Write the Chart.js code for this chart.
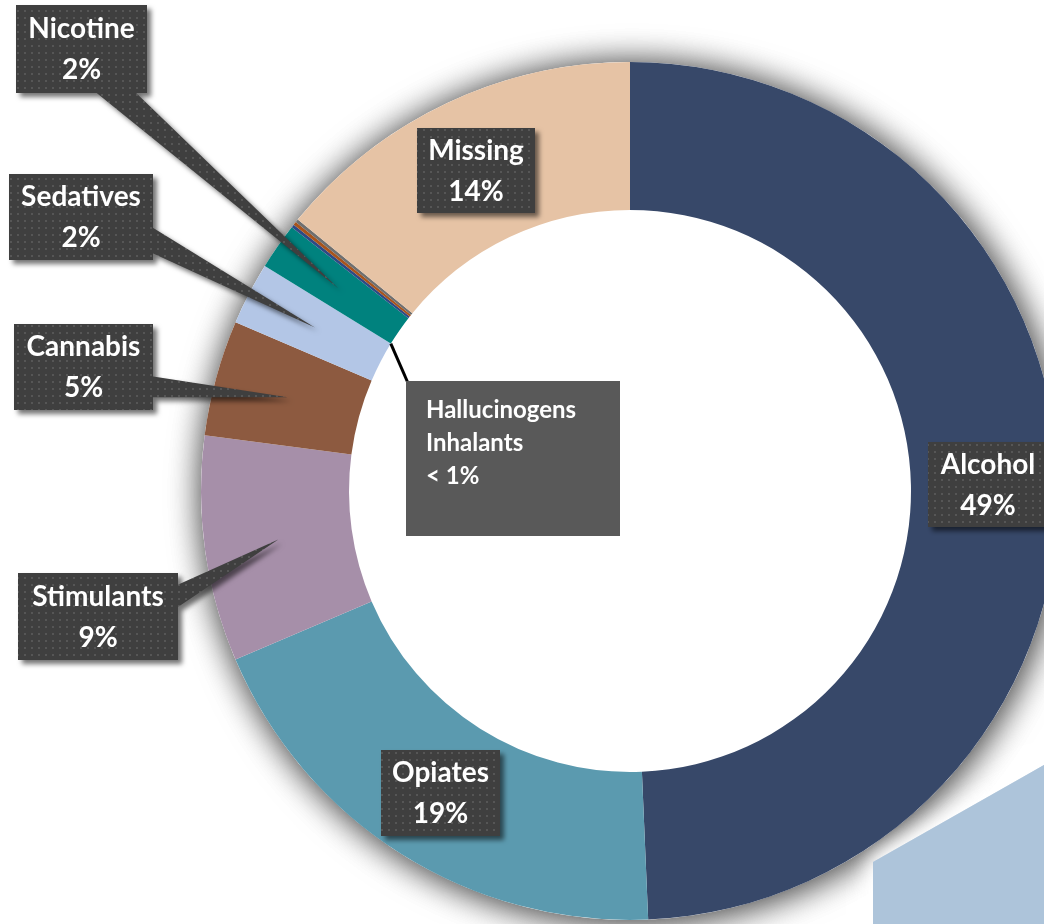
<!DOCTYPE html>
<html>
<head>
<meta charset="utf-8">
<script src="https://cdn.jsdelivr.net/npm/chart.js@4.4.1/dist/chart.umd.min.js"></script>
<style>
  html, body { margin: 0; padding: 0; background: #fff; }
  #wrap { width: 1044px; height: 924px; overflow: hidden; position: relative; }
</style>
</head>
<body>
<div id="wrap"><canvas id="donutChart" width="1044" height="924"></canvas></div>
<script>
// data (share of clients, %)
var categories = ["Alcohol", "Opiates", "Stimulants", "Cannabis", "Sedatives", "Nicotine", "Hallucinogens", "Inhalants", "Other", "Missing"];
var shares = [49.33, 19.25, 8.5, 4.36, 2.36, 1.75, 0.12, 0.12, 0.12, 14.1];
var shareLabels = ["49%", "19%", "9%", "5%", "2%", "2%", "< 1%", "< 1%", "< 1%", "14%"];
var sliceColors = ["#374869", "#5b9aaf", "#a68fa9", "#8d5a40", "#b3c6e6", "#00827e", "#2e4a85", "#a8541c", "#6f6f6f", "#e6c3a5"];

// callout boxes: [x, y, w, h], pointer base points (optional)
var callouts = [
    { i: 0, box: [928, 442, 120, 85] },
    { i: 1, box: [381, 750, 119, 86] },
    { i: 2, box: [18, 573, 160, 87], base: [[175, 586], [175, 609]] },
    { i: 3, box: [14, 324, 139, 86], base: [[150, 376], [150, 397]] },
    { i: 4, box: [9, 174, 144, 86], base: [[150, 226], [150, 252]] },
    { i: 5, box: [16, 5, 131, 88], base: [[93, 90], [133, 90]] },
    { i: 9, box: [417, 128, 118, 85] }
];
var smallNote = { box: [406, 381, 214, 155], lines: ["Hallucinogens", "Inhalants", "< 1%"] };

function dotPattern(ctx) {
    var c = document.createElement("canvas");
    c.width = 7; c.height = 7;
    var p = c.getContext("2d");
    p.fillStyle = "#3f3f3f";
    p.fillRect(0, 0, 7, 7);
    p.fillStyle = "#565656";
    p.fillRect(3, 3, 2, 2);
    return ctx.createPattern(c, "repeat");
}

function triPath(ctx, a, b, t) {
    // keep winding the same as ctx.rect (clockwise on screen)
    var cross = (b[0] - a[0]) * (t[1] - a[1]) - (b[1] - a[1]) * (t[0] - a[0]);
    if (cross < 0) { var s = a; a = b; b = s; }
    ctx.moveTo(a[0], a[1]);
    ctx.lineTo(b[0], b[1]);
    ctx.lineTo(t[0], t[1]);
    ctx.closePath();
}

var backdrop = {
    id: "backdrop",
    beforeDatasetsDraw: function (chart) {
        var ctx = chart.ctx;
        var arc = chart.getDatasetMeta(0).data[0];
        ctx.save();
        // soft shadow round the ring
        ctx.shadowColor = "rgba(0,0,0,0.5)";
        ctx.shadowBlur = 34;
        ctx.shadowOffsetX = 2;
        ctx.shadowOffsetY = 2;
        ctx.fillStyle = "#ffffff";
        ctx.beginPath();
        ctx.arc(arc.x, arc.y, arc.outerRadius, 0, Math.PI * 2);
        ctx.fill();
        ctx.fill();
        // light blue panel bottom right
        ctx.shadowColor = "#ffffff";
        ctx.shadowBlur = 22;
        ctx.shadowOffsetX = 0;
        ctx.shadowOffsetY = 0;
        ctx.fillStyle = "#adc4da";
        ctx.beginPath();
        ctx.moveTo(873, 862);
        ctx.lineTo(1044, 765);
        ctx.lineTo(1044, 924);
        ctx.lineTo(873, 924);
        ctx.closePath();
        ctx.fill();
        ctx.fill();
        ctx.restore();
    }
};

var calloutPlugin = {
    id: "callouts",
    afterDatasetsDraw: function (chart) {
        var ctx = chart.ctx;
        var meta = chart.getDatasetMeta(0);
        var pat = dotPattern(ctx);

        // leader + grey note for the tiny slices
        var nic = meta.data[5];
        var ex = nic.x + nic.innerRadius * Math.cos(nic.startAngle);
        var ey = nic.y + nic.innerRadius * Math.sin(nic.startAngle);
        var nb = smallNote.box;
        ctx.save();
        ctx.strokeStyle = "#000";
        ctx.lineWidth = 3;
        ctx.beginPath();
        ctx.moveTo(ex, ey);
        ctx.lineTo(nb[0] + 2, nb[1] + 2);
        ctx.stroke();
        ctx.fillStyle = "#595959";
        ctx.fillRect(nb[0], nb[1], nb[2], nb[3]);
        ctx.fillStyle = "#fff";
        ctx.font = "bold 24px Lato";
        ctx.textAlign = "left";
        ctx.textBaseline = "alphabetic";
        smallNote.lines.forEach(function (t, k) {
            ctx.fillText(t, nb[0] + 20, nb[1] + 37 + k * 33);
        });
        ctx.restore();

        callouts.forEach(function (c) {
            var b = c.box;
            ctx.save();
            ctx.shadowColor = "rgba(0,0,0,0.55)";
            ctx.shadowBlur = 5;
            ctx.shadowOffsetX = 4;
            ctx.shadowOffsetY = 4;
            ctx.fillStyle = pat;
            ctx.beginPath();
            ctx.rect(b[0], b[1], b[2], b[3]);
            if (c.base) {
                var tip = meta.data[c.i].tooltipPosition();
                triPath(ctx, c.base[0], c.base[1], [tip.x, tip.y]);
            }
            ctx.fill();
            ctx.restore();

            ctx.save();
            ctx.fillStyle = "#fff";
            ctx.font = "bold 28px Lato";
            ctx.textAlign = "center";
            ctx.textBaseline = "middle";
            var cx = b[0] + b[2] / 2, cy = b[1] + b[3] / 2;
            ctx.fillText(categories[c.i], cx, cy - 20);
            ctx.fillText(shareLabels[c.i], cx, cy + 21);
            ctx.restore();
        });
    }
};

var ctxDonut = document.getElementById("donutChart");
var donut = new Chart(ctxDonut, {
    type: "doughnut",
    data: {
        labels: categories,
        datasets: [{
            data: shares,
            backgroundColor: sliceColors,
            borderWidth: 0,
            hoverOffset: 0,
            clip: false
        }]
    },
    options: {
        responsive: false,
        animation: false,
        events: [],
        cutout: "65.5%",
        radius: 429,
        layout: { padding: { left: 216, right: 0, top: 77, bottom: 19 } },
        plugins: {
            legend: { display: false },
            tooltip: { enabled: false }
        }
    },
    plugins: [backdrop, calloutPlugin]
});
</script>
</body>
</html>
